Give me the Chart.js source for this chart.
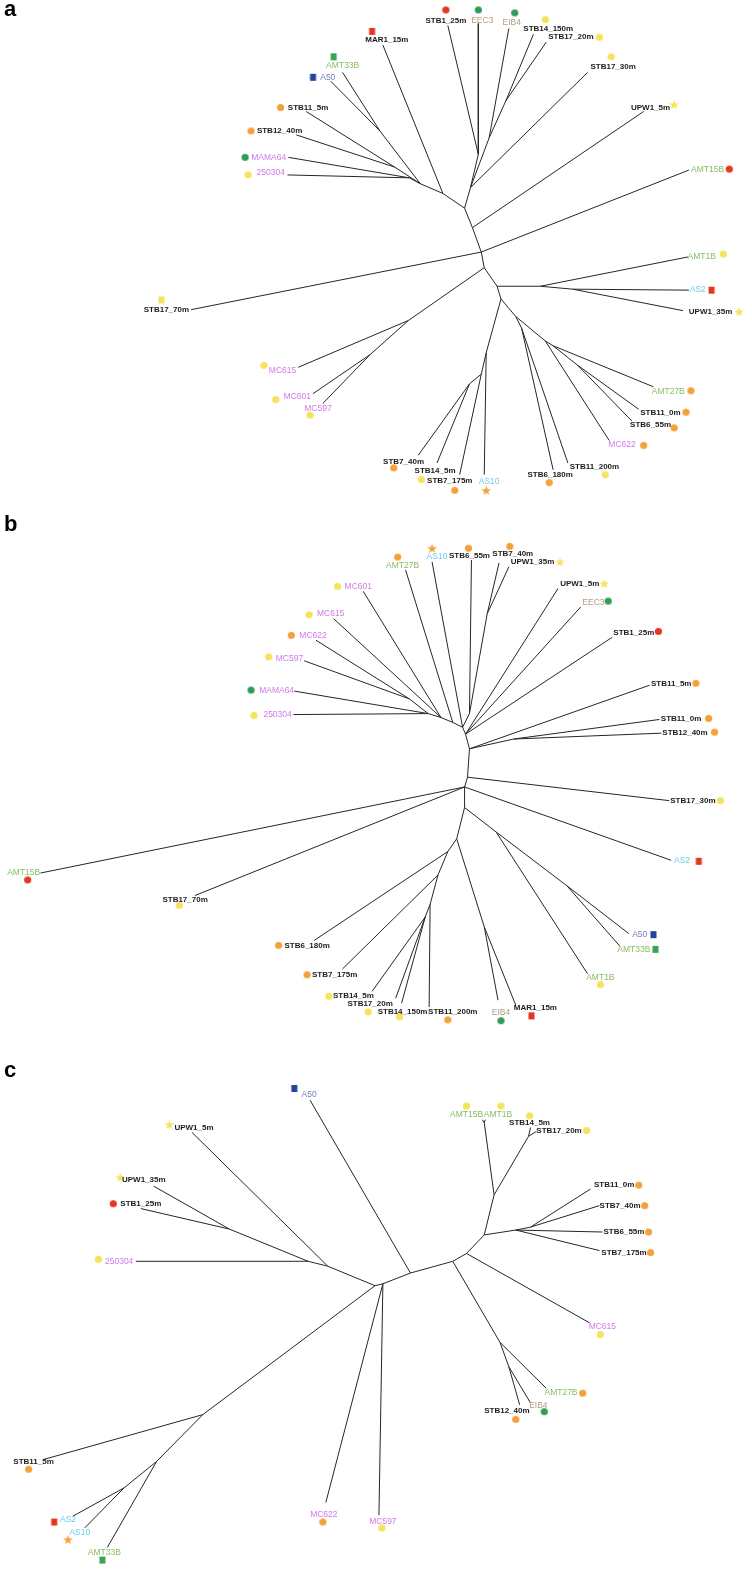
<!DOCTYPE html>
<html>
<head>
<meta charset="utf-8">
<script src="https://cdn.jsdelivr.net/npm/chart.js@4.4.1/dist/chart.umd.min.js"></script>
<style>
  html, body { margin: 0; padding: 0; background: #fff; }
  #wrap { position: relative; width: 752px; height: 1571px; }
  #wrap canvas { position: absolute; left: 0; }
</style>
</head>
<body>
<div id="wrap">
  <canvas id="treeA" width="752" height="510" style="top:0"></canvas>
  <canvas id="treeB" width="752" height="550" style="top:510px"></canvas>
  <canvas id="treeC" width="752" height="511" style="top:1060px"></canvas>
</div>
<script>
// ---- tree a ----
const aNames = ['MAR1_15m','AMT33B','A50','STB11_5m','STB12_40m','MAMA64','250304','STB1_25m','EEC3','EIB4','STB14_150m','STB17_20m','STB17_30m','UPW1_5m','AMT15B','AMT1B','AS2','UPW1_35m','AMT27B','STB11_0m','STB6_55m','MC622','STB11_200m','STB6_180m','AS10','STB7_175m','STB14_5m','STB7_40m','STB17_70m','MC615','MC601','MC597'];
const aTipX = [383,342,330,305,295,287,286,449,480,511,536,549,591,648,694,693,694,688,658,643,636,613,571,556,486,461,438,419,188,297,312,322];
const aTipY = [40,68,77,108,132,155,173,20,18,23,29,37,68,108,168,257,291,312,390,413,425,445,468,475,480,480,468,460,311,370,397,407];
const aDotX = [372,333,312,279,249,243,246,447,480,517,548,603,615,679,735,729,717,745,696,691,679,648,609,552,488,456,422,394,158,262,274,309];
const aDotY = [26,52,73,104,128,155,173,4,4,7,14,32,52,101,167,254,291,313,394,416,432,450,480,488,496,496,485,473,301,368,403,419];
const aLabX = [387,342,327,307,278,267,269,447,484,514,551,574,617,655,713,707,703,716,673,665,655,626,598,553,491,451,436,404,163,281,296,317];
const aLabY = [35,61,73,104,128,155,171,15,15,17,23,32,62,104,168,257,291,313,395,417,429,449,472,480,487,486,476,467,311,373,400,412];
const aMarks = ['R','G','B','o','o','g','y','r','g','g','y','y','y','ys','r','y','R','ys','o','o','o','o','y','o','os','o','y','o','Y','y','y','y'];
const aLeafParent = [3,5,5,7,7,6,6,9,9,10,11,11,8,1,12,17,18,18,23,24,24,21,22,22,20,25,26,26,12,14,13,13];
const aNodeX = [486,474,466,444,421,380,410,395,472,480,491,508,483,370,409,499,503,543,576,518,488,548,524,556,581,483,471];
const aNodeY = [268,227,207,192,182,128,176,165,186,152,135,97,252,357,322,287,300,287,290,318,355,343,330,348,368,377,387];
const aNodeParent = [-1,12,1,2,3,4,4,4,2,8,8,10,0,14,0,0,15,15,17,16,16,19,19,21,23,20,25];

// ---- tree b ----
const bNames = ['MC601','MC615','MC622','MC597','MAMA64','250304','AMT27B','AS10','STB6_55m','STB7_40m','UPW1_35m','UPW1_5m','EEC3','STB1_25m','STB11_5m','STB11_0m','STB12_40m','STB17_30m','AS2','A50','AMT33B','AMT1B','MAR1_15m','EIB4','STB11_200m','STB14_150m','STB17_20m','STB14_5m','STB7_175m','STB6_180m','STB17_70m','AMT15B'];
const bTipX = [363,333,315,303,293,292,406,433,473,501,511,561,584,616,654,664,666,674,676,633,624,591,518,500,430,402,396,372,342,313,192,35];
const bTipY = [587,615,637,658,689,713,565,557,555,558,562,584,603,634,683,718,732,801,862,937,950,978,1010,1005,1012,1008,1003,996,973,944,898,875];
const bDotX = [337,308,290,267,249,252,398,433,470,512,563,608,612,663,701,714,720,726,704,658,660,604,534,503,449,400,368,328,306,277,176,22];
const bDotY = [582,611,632,654,688,714,552,543,543,541,557,579,597,628,681,717,731,801,863,938,953,989,1021,1026,1025,1022,1017,1001,979,949,908,882];
const bLabX = [358,330,312,288,275,276,403,438,471,515,535,583,597,638,676,686,690,698,687,644,638,604,538,503,454,403,370,353,334,306,182,18];
const bLabY = [582,610,632,656,689,713,561,552,551,549,557,579,599,629,682,717,732,801,862,938,953,982,1013,1018,1017,1017,1009,1000,979,949,902,875];
const bMarks = ['y','y','o','y','g','y','o','os','o','o','ys','ys','g','r','o','o','o','y','R','B','G','y','R','g','o','y','y','y','o','o','y','r'];
const bLeafParent = [4,4,6,6,5,5,3,2,7,8,8,1,1,1,0,9,9,10,11,14,14,13,16,16,19,20,20,20,18,17,11,11];
const bNodeX = [471,467,464,454,442,429,410,471,489,516,469,466,466,498,570,458,486,449,439,431,426];
const bNodeY = [748,733,726,721,716,712,697,712,610,738,777,787,808,833,888,840,930,853,877,907,920];
const bNodeParent = [-1,0,1,2,3,4,5,2,7,0,0,10,11,12,13,12,15,15,17,18,19];

// ---- tree c ----
const cNames = ['A50','UPW1_5m','UPW1_35m','STB1_25m','250304','AMT15B','AMT1B','STB14_5m','STB17_20m','STB11_0m','STB7_40m','STB6_55m','STB7_175m','MC615','AMT27B','EIB4','STB12_40m','MC597','MC622','STB11_5m','AS2','AS10','AMT33B'];
const cTipX = [309,189,150,137,132,484,487,533,539,594,603,606,603,593,549,533,522,379,325,38,68,80,103];
const cTipY = [1095,1128,1183,1206,1260,1115,1115,1123,1127,1186,1203,1230,1249,1323,1390,1405,1407,1520,1507,1463,1521,1533,1553];
const cDotX = [293,166,116,109,94,468,503,532,590,643,649,653,655,604,586,547,518,382,322,23,49,63,98];
const cDotY = [1083,1120,1174,1201,1258,1101,1101,1111,1126,1182,1203,1230,1251,1335,1395,1414,1422,1533,1527,1473,1527,1545,1566];
const cLabX = [308,191,140,137,115,468,500,532,562,618,624,628,628,606,564,541,509,383,323,28,63,75,100];
const cLabY = [1089,1123,1177,1201,1260,1110,1110,1118,1126,1182,1203,1230,1251,1327,1395,1408,1413,1527,1519,1465,1525,1538,1558];
const cMarks = ['B','ys','ys','r','y','y','y','y','y','o','o','o','o','y','o','g','o','y','o','o','R','os','G'];
const cLeafParent = [8,2,4,4,3,17,17,18,18,15,15,14,14,12,10,11,11,0,0,5,7,7,6];
const cNodeX = [383,375,327,307,227,200,153,120,411,454,502,511,468,486,518,533,496,486,531];
const cNodeY = [1283,1285,1265,1260,1227,1417,1465,1492,1272,1260,1343,1368,1252,1233,1228,1225,1192,1118,1132];
const cNodeParent = [-1,0,1,2,3,1,5,6,0,8,9,10,9,12,13,14,13,16,16];

// marker look per code
const markStyle = {
  o: ['circle', '#f4a13a'], y: ['circle', '#f5e35c'], r: ['circle', '#e1381f'], g: ['circle', '#2f9d55'],
  R: ['square', '#e1381f'], G: ['square', '#3aa35a'], B: ['square', '#24439a'], Y: ['square', '#f5e35c'],
  ys: ['star', '#f5e35c'], os: ['star', '#f4a13a']
};
const markCache = {};
function markImage(code) {
  if (markCache[code]) return markCache[code];
  const [shape, color] = markStyle[code];
  const c = document.createElement('canvas');
  c.width = 11; c.height = 11;
  const g = c.getContext('2d');
  g.fillStyle = color;
  if (shape === 'circle') {
    g.beginPath(); g.arc(5.5, 5.5, 3.6, 0, Math.PI * 2); g.fill();
  } else if (shape === 'square') {
    g.fillRect(2.5, 2, 6, 7);
  } else {
    g.beginPath();
    for (let k = 0; k < 10; k++) {
      const r = k % 2 ? 2.1 : 5;
      const a = -Math.PI / 2 + k * Math.PI / 5;
      g.lineTo(5.5 + r * Math.cos(a), 6 + r * Math.sin(a));
    }
    g.closePath(); g.fill();
  }
  markCache[code] = c;
  return c;
}

function labelLook(name) {
  if (/^(STB|UPW|MAR)/.test(name)) return ['bold 8px', '#1c1c1c'];
  if (/^(MC|MAMA|250304)/.test(name)) return ['8.5px', '#d07ae6'];
  if (/^AMT/.test(name)) return ['8.5px', '#86bd62'];
  if (/^AS/.test(name)) return ['8.5px', '#6dcbea'];
  if (/^A50/.test(name)) return ['8.5px', '#7482b6'];
  return ['8.5px', '#b39c82'];
}

function drawTree(id, letter, letterBase, yTop, yBottom, t) {
  const datasets = [];
  const branch = (x1, y1, x2, y2) => datasets.push({
    data: [{ x: x1, y: y1 }, { x: x2, y: y2 }],
    showLine: true, pointRadius: 0, borderColor: '#262626', borderWidth: 1
  });
  t.nodeX.forEach((x, i) => {
    const p = t.nodeParent[i];
    if (p >= 0) branch(x, t.nodeY[i], t.nodeX[p], t.nodeY[p]);
  });
  t.names.forEach((n, i) => {
    const p = t.leafParent[i];
    branch(t.tipX[i], t.tipY[i], t.nodeX[p], t.nodeY[p]);
  });
  datasets.push({
    data: t.dotX.map((x, i) => ({ x: x, y: t.dotY[i] })),
    pointStyle: t.marks.map(markImage),
    pointRadius: 5, showLine: false
  });

  new Chart(document.getElementById(id), {
    type: 'scatter',
    data: { datasets: datasets },
    options: {
      responsive: false,
      animation: false,
      events: [],
      devicePixelRatio: 1,
      layout: { padding: 0 },
      plugins: { legend: { display: false }, tooltip: { enabled: false } },
      scales: {
        x: { type: 'linear', min: 0, max: 752, display: false },
        y: { type: 'linear', min: yTop, max: yBottom, reverse: true, display: false }
      }
    },
    plugins: [{
      id: 'tipLabels',
      afterDatasetsDraw(chart) {
        const { ctx, scales: { x, y } } = chart;
        ctx.save();
        ctx.textAlign = 'center';
        ctx.textBaseline = 'middle';
        t.names.forEach((n, i) => {
          const [f, col] = labelLook(n);
          ctx.font = f + ' "Liberation Sans", Arial, sans-serif';
          ctx.fillStyle = col;
          ctx.fillText(n, x.getPixelForValue(t.labX[i]), y.getPixelForValue(t.labY[i]));
        });
        ctx.textAlign = 'left';
        ctx.textBaseline = 'alphabetic';
        ctx.font = 'bold 22px "Liberation Sans", Arial, sans-serif';
        ctx.fillStyle = '#000';
        ctx.fillText(letter, 4, letterBase);
        ctx.restore();
      }
    }]
  });
}

drawTree('treeA', 'a', 16, 0, 510, {
  names: aNames, tipX: aTipX, tipY: aTipY, dotX: aDotX, dotY: aDotY, labX: aLabX, labY: aLabY,
  marks: aMarks, leafParent: aLeafParent, nodeX: aNodeX, nodeY: aNodeY, nodeParent: aNodeParent
});
drawTree('treeB', 'b', 21, 510, 1060, {
  names: bNames, tipX: bTipX, tipY: bTipY, dotX: bDotX, dotY: bDotY, labX: bLabX, labY: bLabY,
  marks: bMarks, leafParent: bLeafParent, nodeX: bNodeX, nodeY: bNodeY, nodeParent: bNodeParent
});
drawTree('treeC', 'c', 17, 1060, 1571, {
  names: cNames, tipX: cTipX, tipY: cTipY, dotX: cDotX, dotY: cDotY, labX: cLabX, labY: cLabY,
  marks: cMarks, leafParent: cLeafParent, nodeX: cNodeX, nodeY: cNodeY, nodeParent: cNodeParent
});
</script>
</body>
</html>
